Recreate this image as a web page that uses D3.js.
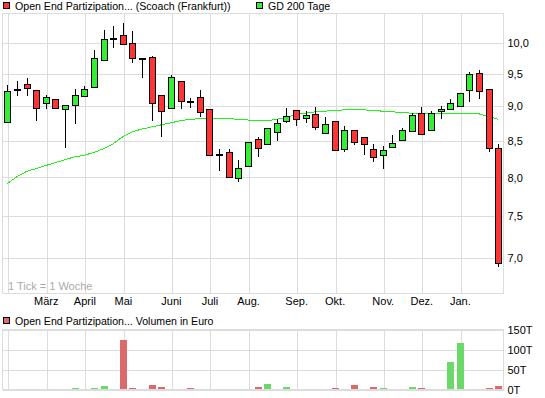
<!DOCTYPE html>
<html>
<head>
<meta charset="utf-8"/>
<script src="https://cdnjs.cloudflare.com/ajax/libs/d3/7.8.5/d3.min.js"></script>
<style>
  body { margin: 0; background: #fff; }
  svg { display: block; font-family: "Liberation Sans", Arial, sans-serif; font-size: 11px; }
</style>
</head>
<body>
<script>
// weekly candles, Feb 2011 - Jan 2012
const weekStart = "2011-02-07";
const weekEnd = "2012-01-30";
const open  = [8.77, 9.24, 9.33, 9.24, 9.05, 9.11, 8.96, 9.02, 9.15, 9.29, 9.71, 10.08, 10.12, 9.99, 9.75, 9.76, 9.17, 8.97, 9.38, 9.08, 9.14, 8.95, 8.31, 8.34, 7.98, 8.15, 8.52, 8.45, 8.62, 8.78, 8.94, 8.82, 8.88, 8.61, 8.78, 8.38, 8.65, 8.55, 8.38, 8.30, 8.41, 8.50, 8.64, 8.90, 8.65, 8.93, 8.96, 9.00, 9.24, 9.51, 9.25, 8.40];
const high  = [9.32, 9.39, 9.44, 9.24, 9.17, 9.11, 9.02, 9.26, 9.31, 9.88, 10.22, 10.28, 10.34, 10.20, 9.75, 9.78, 9.17, 9.48, 9.38, 9.12, 9.25, 8.96, 8.39, 8.39, 8.24, 8.48, 8.55, 8.67, 8.81, 8.97, 8.94, 8.93, 8.99, 8.84, 8.78, 8.72, 8.66, 8.55, 8.45, 8.43, 8.59, 8.69, 8.91, 8.99, 8.93, 9.00, 9.11, 9.21, 9.53, 9.56, 9.26, 8.46];
const low   = [8.77, 9.15, 9.16, 8.79, 8.96, 8.96, 8.40, 8.74, 9.15, 9.29, 9.70, 9.92, 9.97, 9.67, 9.44, 8.79, 8.56, 8.97, 8.96, 8.97, 8.85, 8.30, 8.09, 8.00, 7.94, 8.15, 8.28, 8.45, 8.50, 8.75, 8.72, 8.75, 8.65, 8.61, 8.36, 8.35, 8.44, 8.31, 8.21, 8.12, 8.41, 8.50, 8.64, 8.59, 8.64, 8.82, 8.96, 9.00, 9.06, 9.11, 8.34, 6.90];
const close = [9.23, 9.25, 9.27, 8.97, 9.14, 8.97, 9.02, 9.17, 9.26, 9.75, 10.06, 10.08, 9.97, 9.75, 9.75, 9.05, 8.93, 9.44, 9.08, 9.07, 8.91, 8.30, 8.31, 8.00, 8.12, 8.48, 8.40, 8.67, 8.75, 8.85, 8.81, 8.87, 8.69, 8.74, 8.37, 8.65, 8.48, 8.45, 8.27, 8.36, 8.47, 8.65, 8.87, 8.59, 8.90, 8.96, 9.05, 9.20, 9.49, 9.22, 8.39, 6.94];
const gd200 = [7.92, 8.01, 8.08, 8.12, 8.16, 8.20, 8.24, 8.28, 8.30, 8.34, 8.39, 8.46, 8.56, 8.63, 8.67, 8.70, 8.73, 8.76, 8.79, 8.81, 8.82, 8.82, 8.82, 8.82, 8.81, 8.80, 8.80, 8.79, 8.81, 8.84, 8.88, 8.90, 8.92, 8.93, 8.94, 8.95, 8.96, 8.95, 8.94, 8.93, 8.92, 8.91, 8.90, 8.89, 8.89, 8.89, 8.89, 8.90, 8.90, 8.89, 8.85, 8.81];
// volume in thousand euro
const volume = [0, 0, 0, 0, 0, 0, 0, 3, 0, 3, 8, 0, 123, 3, 0, 11, 6, 0, 0, 3, 0, 0, 0, 0, 0, 0, 6, 13, 0, 6, 0, 0, 0, 0, 3, 0, 11, 0, 6, 3, 0, 0, 6, 3, 0, 0, 68, 116, 0, 0, 3, 8];

const monthTicks = ["2011-02-07", "2011-03-07", "2011-04-04", "2011-05-02", "2011-06-06", "2011-07-04", "2011-08-01", "2011-09-05", "2011-10-03", "2011-11-07", "2011-12-05", "2012-01-02"];
const monthLabels = ["", "März", "April", "Mai", "Juni", "Juli", "Aug.", "Sep.", "Okt.", "Nov.", "Dez.", "Jan."];
const priceTicks = [7, 7.5, 8, 8.5, 9, 9.5, 10];
const volumeTicks = [0, 50, 100, 150];

const width = 545, height = 398;
const left = 2.5, right = 503.5;
const main = {top: 13.5, bottom: 293.5};
const vol = {top: 329.5, bottom: 389.5};

const parse = d3.utcParse("%Y-%m-%d");
const weeks = d3.utcMonday.range(parse(weekStart), d3.utcDay.offset(parse(weekEnd), 1));
const data = weeks.map((date, i) => ({
  date, open: open[i], high: high[i], low: low[i], close: close[i], gd: gd200[i], volume: volume[i]
}));

const x = d3.scaleUtc()
  .domain([parse(weekStart), parse(weekEnd)])
  .range([7.3, 498.3]);
const y = d3.scaleLog()
  .domain([6.6, 10.5])
  .range([main.bottom, main.top]);
const yVol = d3.scaleLinear()
  .domain([0, 150])
  .range([vol.bottom, vol.top]);

const px = v => Math.round(v) + 0.5;
const grid = "#dcdcdc";
const red = "#ff3535", green = "#33ee33";
const volRed = "#dc6a6a", volGreen = "#6ad96a";

const svg = d3.select("body").append("svg")
  .attr("width", width)
  .attr("height", height)
  .attr("viewBox", [0, 0, width, height]);

function panel(top, bottom, yScale, ticks, fmt) {
  const g = svg.append("g").attr("shape-rendering", "crispEdges");
  // vertical month grid
  g.append("g")
    .attr("transform", `translate(0,${bottom})`)
    .call(d3.axisBottom(x).tickValues(monthTicks.map(parse)).tickSize(-(bottom - top)).tickFormat(""))
    .call(g => g.select(".domain").remove())
    .call(g => g.selectAll(".tick line").attr("stroke", grid).attr("transform", d => `translate(${px(x(d)) - x(d)},0)`));
  // horizontal grid + right labels
  g.append("g")
    .attr("transform", `translate(${right},0)`)
    .call(d3.axisRight(yScale).tickValues(ticks).tickSize(-(right - left)).tickPadding(4).tickFormat(fmt))
    .call(g => g.select(".domain").remove())
    .call(g => g.selectAll(".tick line").attr("stroke", grid))
    .call(g => g.selectAll(".tick text").attr("fill", "#000").attr("font-size", 11).attr("font-family", "Liberation Sans, Arial, sans-serif"));
  g.append("rect")
    .attr("x", left).attr("y", top)
    .attr("width", right - left).attr("height", bottom - top)
    .attr("fill", "none").attr("stroke", grid);
}

panel(main.top, main.bottom, y, priceTicks, d => d3.format(".1f")(d).replace(".", ","));
panel(vol.top, vol.bottom, yVol, volumeTicks, d => d + "T");

// month labels
svg.append("g")
  .attr("transform", `translate(0,${main.bottom})`)
  .call(d3.axisBottom(x).tickValues(monthTicks.map(parse)).tickSize(0).tickPadding(4)
    .tickFormat((d, i) => monthLabels[i]))
  .call(g => g.select(".domain").remove())
  .call(g => g.selectAll(".tick text").attr("fill", "#000").attr("font-size", 11).attr("font-family", "Liberation Sans, Arial, sans-serif"));

svg.append("text")
  .attr("x", 8).attr("y", 290)
  .attr("fill", "#aaa")
  .text("1 Tick = 1 Woche");

// GD 200 line
svg.append("path")
  .datum(data)
  .attr("fill", "none")
  .attr("stroke", "#22ee22")
  .attr("stroke-width", 1)
  .attr("shape-rendering", "crispEdges")
  .attr("d", d3.line().x(d => x(d.date)).y(d => y(d.gd)));

// candles
const candle = svg.append("g").attr("shape-rendering", "crispEdges")
  .selectAll("g")
  .data(data)
  .join("g");

candle.append("line")
  .attr("x1", d => px(x(d.date))).attr("x2", d => px(x(d.date)))
  .attr("y1", d => y(d.high)).attr("y2", d => y(d.low))
  .attr("stroke", "#000");

candle.append("rect")
  .attr("x", d => px(x(d.date)) - 3)
  .attr("width", 6)
  .attr("y", d => y(Math.max(d.open, d.close)))
  .attr("height", d => Math.max(1, y(Math.min(d.open, d.close)) - y(Math.max(d.open, d.close))))
  .attr("fill", d => d.close >= d.open ? green : red)
  .attr("stroke", "#000");

// volume bars
svg.append("g").attr("shape-rendering", "crispEdges")
  .selectAll("rect")
  .data(data.filter(d => d.volume > 0))
  .join("rect")
  .attr("x", d => Math.round(x(d.date)) - 3)
  .attr("width", 7)
  .attr("y", d => yVol(d.volume) - 0.5)
  .attr("height", d => vol.bottom - yVol(d.volume))
  .attr("fill", d => d.close < d.open ? volRed : volGreen);

// legends
function legend(xPos, yPos, color, label) {
  svg.append("rect")
    .attr("x", xPos + 0.5).attr("y", yPos + 0.5)
    .attr("width", 6).attr("height", 6)
    .attr("fill", color).attr("stroke", "#000")
    .attr("shape-rendering", "crispEdges");
  svg.append("text")
    .attr("x", xPos + 12).attr("y", yPos + 8)
    .attr("fill", "#000")
    .attr("font-size", 10.6)
    .text(label);
}
legend(3, 2, red, "Open End Partizipation... (Scoach (Frankfurt))");
legend(256, 2, green, "GD 200 Tage");
legend(3, 317, volRed, "Open End Partizipation... Volumen in Euro");
</script>
</body>
</html>
